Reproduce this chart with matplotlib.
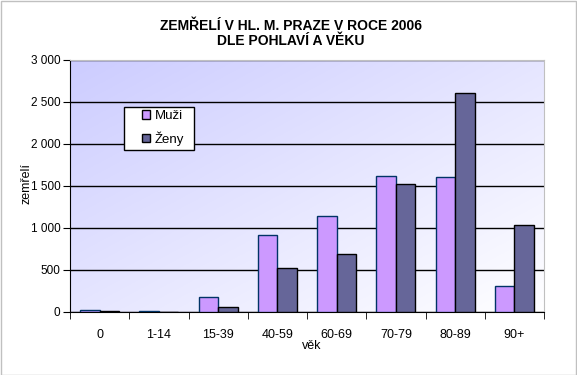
import numpy as np
import matplotlib.pyplot as plt
from matplotlib.patches import Rectangle
from matplotlib.ticker import FuncFormatter

plt.rcParams['font.family'] = ['Liberation Sans', 'DejaVu Sans']

vek = ['0', '1-14', '15-39', '40-59', '60-69', '70-79', '80-89', '90+']
muzi = [20, 12, 176, 920, 1143, 1619, 1607, 310]
zeny = [12, 3, 56, 524, 690, 1524, 2607, 1036]

W, H = 577, 375
fig = plt.figure(figsize=(W / 100, H / 100), dpi=100)
ax = fig.add_axes([70 / W, 1 - 312 / H, 474 / W, 252 / H])

# pozadi: prechod z levandulove (vlevo nahore) do bile (vpravo dole)
n = 200
xx, yy = np.meshgrid(np.linspace(0, 1, n), np.linspace(0, 1, n))
t = np.clip((xx + yy) / 2, 0, 1)
c0 = np.array([204, 204, 255]) / 255
c1 = np.array([255, 255, 255]) / 255
img = c0[None, None, :] * (1 - t[..., None]) + c1[None, None, :] * t[..., None]
ax.imshow(img, extent=[-0.5, 7.5, 0, 3000], aspect='auto', origin='upper', zorder=0)

x = np.arange(len(vek))
w = 0.33
ax.bar(x - w / 2, muzi, w, color='#CC99FF', edgecolor='#003366', linewidth=1, label='Muži', zorder=3)
ax.bar(x + w / 2, zeny, w, color='#666699', edgecolor='black', linewidth=1, label='Ženy', zorder=3)

ax.set_xlim(-0.5, 7.5)
ax.set_ylim(0, 3000)
ax.set_yticks(range(0, 3001, 500))
ax.yaxis.set_major_formatter(FuncFormatter(lambda v, p: f'{int(v):,}'.replace(',', ' ')))
ax.yaxis.grid(True, color='black', linewidth=1, zorder=1)
ax.set_axisbelow(True)

ax.set_xticks(x)
ax.set_xticklabels(vek)
ax.set_xticks(np.arange(-0.5, 8, 1), minor=True)
ax.tick_params(axis='x', which='major', length=0, pad=12, labelsize=9)
ax.tick_params(axis='x', which='minor', length=5, direction='out', color='black')
ax.tick_params(axis='y', length=5, direction='out', labelsize=8.5, pad=2)

for s in ['top', 'right']:
    ax.spines[s].set_color('#C0C0C0')
for s in ['left', 'bottom']:
    ax.spines[s].set_color('black')

fig.text(27 / W, 1 - 183.5 / H, 'zemřelí', rotation=90, ha='center', va='center', fontsize=9)
fig.text(312 / W, 1 - 346 / H, 'věk', ha='center', va='center', fontsize=9)

fig.text(290.5 / W, 1 - 33.5 / H, 'ZEMŘELÍ V HL. M. PRAZE V ROCE 2006\nDLE POHLAVÍ A VĚKU',
         ha='center', va='center', fontsize=10, fontweight='bold', linespacing=1.1)

# legenda: ramecek zvlast, polozky bez ramecku
ax.add_patch(Rectangle((124 / W, 1 - 150 / H), 70 / W, 43 / H, transform=fig.transFigure,
                       facecolor='white', edgecolor='black', linewidth=1, zorder=6, clip_on=False))
leg = ax.legend(loc='upper left', bbox_to_anchor=(142 / W, 1 - 110 / H),
                bbox_transform=fig.transFigure, fontsize=9.5, frameon=False,
                handlelength=0.6, handleheight=0.6, handletextpad=0.35, borderpad=0,
                borderaxespad=0, labelspacing=0.7)
leg.set_zorder(7)
for h in leg.legend_handles:
    h.set_edgecolor('black')

fig.patches.append(Rectangle((0.001, 0.001), 0.997, 0.997, transform=fig.transFigure,
                             fill=False, edgecolor='#C0C0C0', linewidth=1))

fig.savefig('out.png', dpi=100)
